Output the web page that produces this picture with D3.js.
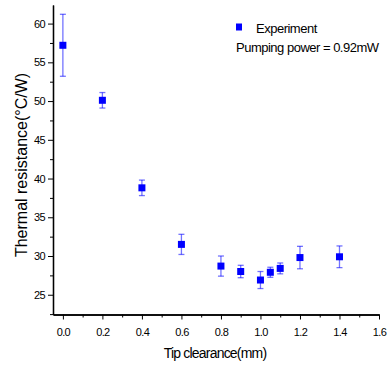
<!DOCTYPE html>
<html>
<head>
<meta charset="utf-8">
<script src="https://cdn.jsdelivr.net/npm/d3@7"></script>
<style>
  body { margin: 0; background: #fff; }
  text { font-family: "Liberation Sans", Arial, sans-serif; fill: #000; }
</style>
</head>
<body>
<script>
// Tip clearance (mm) vs thermal resistance (°C/W)
const clearance = [0.0, 0.2, 0.4, 0.6, 0.8, 0.9, 1.0, 1.05, 1.1, 1.2, 1.4];
const resistance = [57.2, 50.1, 38.8, 31.5, 28.7, 28.0, 26.9, 27.9, 28.4, 29.8, 29.9];
const errors = [4.0, 1.0, 1.0, 1.3, 1.3, 0.8, 1.1, 0.65, 0.7, 1.45, 1.4];
const xTicks = [0, 0.2, 0.4, 0.6, 0.8, 1.0, 1.2, 1.4, 1.6];
const yTicks = [25, 30, 35, 40, 45, 50, 55, 60];

const W = 389, H = 367;
const plot = { left: 53, right: 379, top: 5, bottom: 314.5 };

const x = d3.scaleLinear().domain([-0.05, 1.6]).range([plot.left, plot.right]);
const y = d3.scaleLinear().domain([22.45, 62.4]).range([plot.bottom, plot.top]);

const svg = d3.select('body').append('svg')
  .attr('width', W)
  .attr('height', H);

// axes
const xAxis = svg.append('g')
  .attr('transform', `translate(0,${plot.bottom})`)
  .call(d3.axisBottom(x).tickValues(xTicks).tickFormat(d3.format('.1f')).tickSize(5).tickSizeOuter(0));
const xMinor = svg.append('g')
  .attr('transform', `translate(0,${plot.bottom})`)
  .call(d3.axisBottom(x).tickValues(d3.range(0.1, 1.6, 0.2)).tickFormat('').tickSize(3).tickSizeOuter(0));

const yAxis = svg.append('g')
  .attr('transform', `translate(${plot.left},0)`)
  .call(d3.axisLeft(y).tickValues(yTicks).tickSize(5).tickSizeOuter(0));
const yMinor = svg.append('g')
  .attr('transform', `translate(${plot.left},0)`)
  .call(d3.axisLeft(y).tickValues(d3.range(22.5, 62.5, 5)).tickFormat('').tickSize(3).tickSizeOuter(0));

[xAxis, xMinor, yAxis, yMinor].forEach(g => {
  g.select('.domain').attr('stroke', '#000').attr('stroke-width', 1.3);
  g.selectAll('.tick line').attr('stroke', '#000').attr('stroke-width', 1);
  g.selectAll('.tick text').style('font-size', '11px').attr('fill', '#000').style('letter-spacing', '-0.6px');
});
xAxis.selectAll('.tick text').attr('dy', '1.25em');
yAxis.selectAll('.tick text').attr('x', -8);

// error bars
const err = svg.append('g').attr('stroke', '#0000ff').attr('stroke-opacity', 0.55).attr('stroke-width', 1.3);
clearance.forEach((c, i) => {
  const cx = x(c), y1 = y(resistance[i] + errors[i]), y2 = y(resistance[i] - errors[i]);
  err.append('line').attr('x1', cx).attr('x2', cx).attr('y1', y1).attr('y2', y2);
  err.append('line').attr('x1', cx - 3).attr('x2', cx + 3).attr('y1', y1).attr('y2', y1);
  err.append('line').attr('x1', cx - 3).attr('x2', cx + 3).attr('y1', y2).attr('y2', y2);
});

// points
svg.selectAll('.point')
  .data(clearance)
  .enter().append('rect')
  .attr('class', 'point')
  .attr('x', (d) => x(d) - 3.5)
  .attr('y', (d, i) => y(resistance[i]) - 3.5)
  .attr('width', 7)
  .attr('height', 7)
  .attr('fill', '#0000ff');

// legend
svg.append('rect').attr('x', 236).attr('y', 23.5).attr('width', 6).attr('height', 7).attr('fill', '#0000ff');
svg.append('text').attr('x', 256).attr('y', 33).style('font-size', '13px').style('letter-spacing', '-0.5px').text('Experiment');
svg.append('text').attr('x', 236).attr('y', 52).style('font-size', '13px').style('letter-spacing', '-0.5px').text('Pumping power = 0.92mW');

// axis titles
svg.append('text')
  .attr('x', 215).attr('y', 358)
  .attr('text-anchor', 'middle')
  .style('font-size', '14px').style('letter-spacing', '-0.8px')
  .text('Tip clearance(mm)');
svg.append('text')
  .attr('transform', 'translate(26.5,165) rotate(-90)')
  .attr('text-anchor', 'middle')
  .style('font-size', '16px')
  .text('Thermal resistance(°C/W)');
</script>
</body>
</html>
